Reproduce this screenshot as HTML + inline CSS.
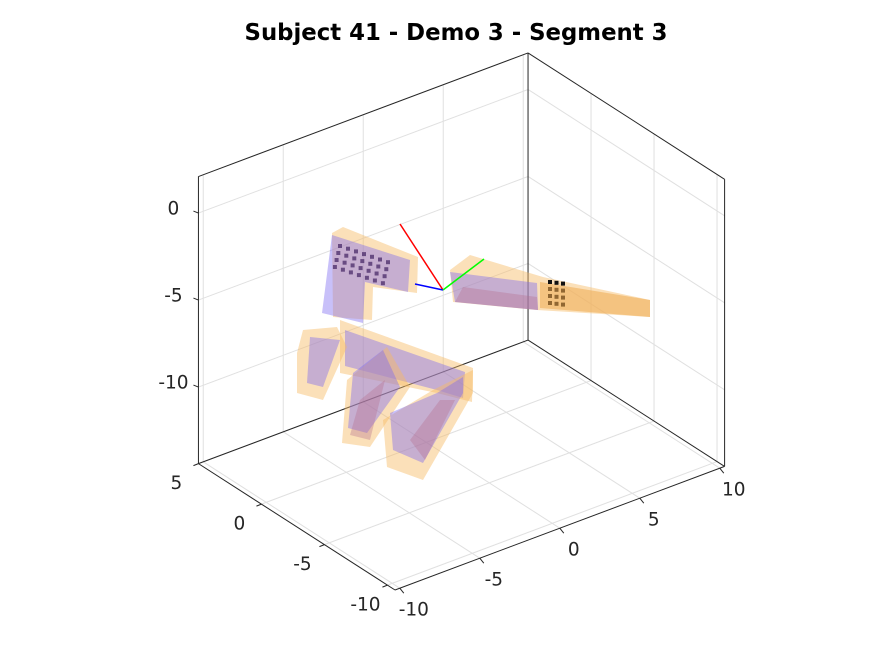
<!DOCTYPE html>
<html><head><meta charset="utf-8"><style>
html,body{margin:0;padding:0;background:#fff;width:891px;height:659px;overflow:hidden}
svg{display:block}
text{font-family:"DejaVu Sans","Liberation Sans",sans-serif}
</style></head><body>
<svg id="chart" width="891" height="659" viewBox="0 0 891 659" xmlns="http://www.w3.org/2000/svg">
<rect width="891" height="659" fill="#fff"/>
<text x="456" y="40" text-anchor="middle" font-size="22.8" font-weight="bold" fill="#000">Subject 41 - Demo 3 - Segment 3</text>
<g id="grid"></g>
<g id="box"></g>
<g id="hand"></g>
<g id="labels"></g>
</svg>
<script>
const xTicks = [-10, -5, 0, 5, 10];
const yTicks = [-10, -5, 0, 5];
const zTicks = [-10, -5, 0];
const xLabels = ["-10", "-5", "0", "5", "10"];
const yLabels = ["-10", "-5", "0", "5"];
const zLabels = ["-10", "-5", "0"];
const xLim = [-10.3, 10.3], yLim = [-10.6, 5], zLim = [-14.4, 2.1];

const NS = "http://www.w3.org/2000/svg";
function P(x, y, z) {
  return [395 + (x - xLim[0]) * 16 + (y - yLim[0]) * -12.6,
          590 + (x - xLim[0]) * -6 + (y - yLim[0]) * -8.1 + (z - zLim[0]) * -17.4];
}
function line(g, a, b, col, w, name) {
  const l = document.createElementNS(NS, "line");
  l.setAttribute("x1", a[0]); l.setAttribute("y1", a[1]);
  l.setAttribute("x2", b[0]); l.setAttribute("y2", b[1]);
  l.setAttribute("stroke", col); l.setAttribute("stroke-width", w);
  
  
  g.appendChild(l);
}
const grid = document.getElementById("grid");
const gc = "#e0e0e0";
const [x0, x1] = xLim, [y0, y1] = yLim, [z0, z1] = zLim;
xTicks.forEach(v => {
  line(grid, P(v, y0, z0), P(v, y1, z0), gc, 1, "floor-grid-x");
  line(grid, P(v, y1, z0), P(v, y1, z1), gc, 1, "wall-grid-x");
});
yTicks.forEach(v => {
  line(grid, P(x0, v, z0), P(x1, v, z0), gc, 1, "floor-grid-y");
  line(grid, P(x1, v, z0), P(x1, v, z1), gc, 1, "wall-grid-y");
});
zTicks.forEach(v => {
  line(grid, P(x0, y1, v), P(x1, y1, v), gc, 1, "wall-grid-z");
  line(grid, P(x1, y1, v), P(x1, y0, v), gc, 1, "wall-grid-z");
});
const box = document.getElementById("box");
const bc = "#262626";
[[P(x0,y1,z0),P(x0,y1,z1)],[P(x1,y1,z0),P(x1,y1,z1)],[P(x1,y0,z0),P(x1,y0,z1)],
 [P(x0,y1,z1),P(x1,y1,z1)],[P(x1,y1,z1),P(x1,y0,z1)],
 [P(x0,y1,z0),P(x0,y0,z0)],[P(x0,y0,z0),P(x1,y0,z0)],
 [P(x0,y1,z0),P(x1,y1,z0)],[P(x1,y1,z0),P(x1,y0,z0)]].forEach(s => line(box, s[0], s[1], bc, 1, "box-edge"));
xTicks.forEach(v => { const a = P(v, y0, z0); line(box, a, [a[0]+4, a[1]+5], bc, 1, "x-tick"); });
yTicks.forEach(v => { const a = P(x0, v, z0); line(box, a, [a[0]-5, a[1]+2], bc, 1, "y-tick"); });
zTicks.forEach(v => { const a = P(x0, y1, v); line(box, a, [a[0]-5, a[1]-2], bc, 1, "z-tick"); });

const lab = document.getElementById("labels");
function txt(p, s, name) {
  const t = document.createElementNS(NS, "text");
  t.setAttribute("x", p[0]); t.setAttribute("y", p[1]);
  t.setAttribute("font-size", "18.5"); t.setAttribute("fill", "#262626");
  t.setAttribute("text-anchor", "middle"); t.setAttribute("dominant-baseline", "central");
  t.textContent = s;
  
  
  lab.appendChild(t);
}
xTicks.forEach((v, i) => { const a = P(v, y0, z0); txt([a[0]+14, a[1]+22], xLabels[i], "x-tick-label"); });
yTicks.forEach((v, i) => { const a = P(x0, v, z0); txt([a[0]-22, a[1]+20], yLabels[i], "y-tick-label"); });
zTicks.forEach((v, i) => { const a = P(x0, y1, v); txt([a[0]-25, a[1]-4], zLabels[i], "z-tick-label"); });

const hand = document.getElementById("hand");
const OR = "rgba(246,186,100,0.45)", PU = "rgba(125,105,240,0.42)", MV = "rgba(180,110,140,0.35)";
const polys = [
 ["palm-back", OR, [[332,233],[343,227],[418,257],[417,293],[373,287],[372,320],[333,317]]],
 ["palm-front", PU, [[332,235],[410,260],[408,292],[365,282],[363,323],[322,313]]],
 ["arm-back", OR, [[450,270],[470,255],[543,277],[650,300],[650,317],[537,310],[453,302]]],
 ["arm-front", PU, [[450,272],[537,283],[538,310],[455,302]]],
 ["arm-shade", MV, [[463,287],[537,297],[538,310],[455,302]]],
 ["forearm-end", "rgba(240,175,90,0.6)", [[540,282],[650,300],[650,317],[540,308]]],
 ["knuckle-back", OR, [[340,320],[473,368],[472,402],[437,393],[340,373]]],
 ["knuckle-front", PU, [[345,330],[465,372],[463,398],[437,390],[345,366]]],
 ["finger1-back", OR, [[303,330],[337,327],[347,347],[323,400],[297,393],[297,353]]],
 ["finger1-front", PU, [[310,337],[340,340],[323,387],[307,383]]],
 ["finger2-back", OR, [[347,380],[387,347],[410,387],[370,447],[342,443]]],
 ["finger2-front", PU, [[353,373],[383,350],[400,387],[367,433],[348,428]]],
 ["finger2-shade", MV, [[360,400],[385,380],[370,440],[350,435]]],
 ["finger3-back", OR, [[383,420],[433,390],[473,370],[473,393],[423,480],[387,467]]],
 ["finger3-front", PU, [[390,413],[437,393],[463,377],[463,393],[423,463],[393,450]]],
 ["finger3-shade", MV, [[410,440],[440,400],[455,400],[425,460]]]
];
polys.forEach(p => {
  const e = document.createElementNS(NS, "polygon");
  e.setAttribute("points", p[2].map(q => q.join(",")).join(" "));
  e.setAttribute("fill", p[1]);
  
  
  hand.appendChild(e);
});
for (let r = 0; r < 4; r++) for (let c = 0; c < 7; c++) {
  const d = document.createElementNS(NS, "rect");
  d.setAttribute("x", 338 + c*8 - r*1.7); d.setAttribute("y", 244 + c*2.7 + r*7);
  d.setAttribute("width", 4); d.setAttribute("height", 4);
  d.setAttribute("fill", "rgba(80,50,110,0.8)");
  
  
  hand.appendChild(d);
}
for (let r = 0; r < 4; r++) for (let c = 0; c < 3; c++) {
  const d = document.createElementNS(NS, "rect");
  d.setAttribute("x", 548 + c*6.5); d.setAttribute("y", 280 + r*7 + c*0.8);
  d.setAttribute("width", 4); d.setAttribute("height", 4);
  d.setAttribute("fill", r === 0 ? "#111" : "rgba(120,80,30,0.8)");
  
  
  hand.appendChild(d);
}
const o = [443, 290];
line(hand, o, [400, 224], "#f00", 1.5, "frame-x-axis");
line(hand, o, [415, 284], "#00f", 1.5, "frame-z-axis");
line(hand, o, [484, 259], "#0f0", 1.5, "frame-y-axis");
</script>
</body></html>
